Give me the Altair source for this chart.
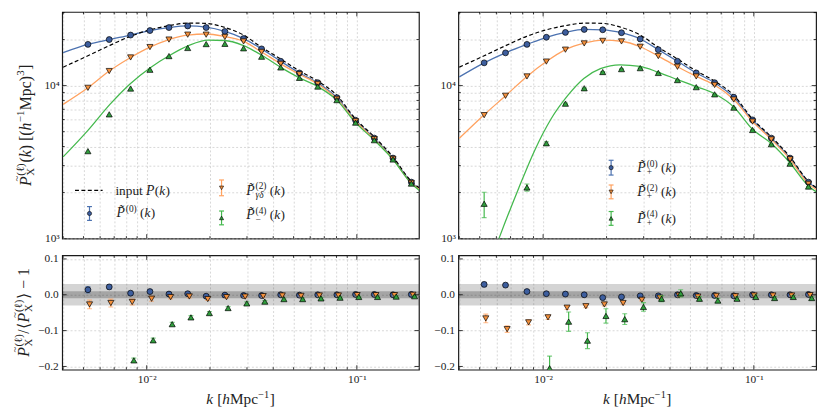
import altair as alt
import pandas as pd

# ---------------- data ----------------
K_BINS = [0.00525, 0.00663, 0.00838, 0.01036, 0.01276, 0.01567, 0.01918, 0.02355, 0.0289,
          0.03521, 0.04341, 0.0533, 0.06516, 0.08034, 0.09861, 0.1211, 0.1486, 0.1817]

# top-left panel (points)
P0_L = [18600, 20000, 21400, 22900, 23960, 24550, 23960, 22600, 20300, 17380, 14420, 12100, 10450, 8350, 5940, 4540, 3360, 2340]
P2_L = [9670, 12450, 15280, 17860, 20000, 21530, 21530, 20800, 19450, 16600, 13880, 11860, 10250, 8190, 5850, 4470, 3320, 2310]
P4_L = [3730, 6490, 9570, 12700, 15600, 17620, 18690, 18760, 17540, 15450, 13150, 11240, 9860, 8040, 5730, 4400, 3290, 2290]
# top-right panel (points)
P0_R = [14090, 16370, 18600, 20700, 22270, 23290, 23170, 22170, 20180, 17180, 14420, 12100, 10450, 8400, 5970, 4540, 3360, 2340]
P2_R = [6410, 8580, 11480, 14360, 17180, 18870, 19600, 19450, 17950, 15600, 13280, 11480, 10100, 8110, 5820, 4450, 3300, 2280]
P4_R = [1690, 880, 2160, 4200, 7620, 9610, 12270, 12820, 13010, 12100, 10870, 9770, 8770, 7180, 5130, 4140, 3090, 2190]
P4_R_ERR = [320, 120, 115, 90, 70, 60, 60, 60, 50, 50, 40, 40, 30, 30, 20, 20, 15, 10]

# model curves
K_LINE = [0.004, 0.00525, 0.00663, 0.00838, 0.01036, 0.01276, 0.01567, 0.01918, 0.02355, 0.0289,
          0.03521, 0.04341, 0.0533, 0.06516, 0.08034, 0.09861, 0.1211, 0.1486, 0.1817, 0.2]
L0_L = [16450, 18600, 20000, 21400, 22900, 23960, 24550, 24100, 22600, 20300, 17380, 14420, 12100, 10450, 8350, 5940, 4540, 3360, 2340, 2100]
L2_L = [7540, 9670, 12450, 15280, 17860, 20000, 21400, 21750, 20900, 19450, 16600, 13880, 11860, 10250, 8190, 5850, 4470, 3320, 2310, 2090]
L0_R = [11400, 14090, 16370, 18600, 20700, 22270, 23290, 23170, 22170, 20180, 17180, 14420, 12100, 10450, 8400, 5970, 4540, 3360, 2340, 2120]
L2_R = [4520, 6450, 8580, 11480, 14360, 17180, 18950, 19850, 19500, 17950, 15600, 13280, 11480, 10100, 8110, 5820, 4450, 3300, 2280, 2080]
K_G_L = [0.004, 0.00525, 0.00668, 0.00835, 0.0104, 0.01276, 0.0159, 0.0196, 0.0235, 0.0287,
         0.0356, 0.04341, 0.0533, 0.06516, 0.08034, 0.09861, 0.1211, 0.1486, 0.1817, 0.2]
L4_L = [3420, 5100, 7540, 10300, 13100, 15670, 18320, 19800, 19720, 18320, 15670, 13150, 11240, 9860, 8040, 5730, 4400, 3290, 2290, 2050]
K_G_R = [0.0055, 0.00617, 0.00764, 0.00914, 0.0109, 0.0131, 0.0156, 0.0187, 0.0232, 0.0288,
         0.035, 0.04341, 0.0533, 0.06516, 0.08034, 0.09861, 0.1211, 0.1486, 0.1817, 0.2]
L4_R = [650, 1000, 2120, 3800, 6050, 8630, 11140, 12900, 13680, 13350, 12270, 10950, 9850, 8850, 7250, 5180, 4180, 3120, 2210, 2000]
K_IN = [0.004, 0.00525, 0.00668, 0.00835, 0.0104, 0.01276, 0.0159, 0.019, 0.0235, 0.0287,
        0.0352, 0.04341, 0.0533, 0.06516, 0.08034, 0.09861, 0.1211, 0.1486, 0.1817, 0.2]
P_IN = [13200, 15670, 18320, 20990, 23180, 24660, 25640, 25530, 24030, 21530, 17800, 14930, 12470, 10710, 8640, 6050, 4630, 3420, 2370, 2130]

# bottom residuals
R0_L = [0.014, 0.022, 0.0045, 0.009, 0.002, 0.003, -0.004, -0.001, -0.002, -0.002, 0.0, -0.001, 0.0, 0.0, 0.001, 0.001, 0.0, 0.001]
R0_L_ERR = [0.009, 0.006, 0.005, 0.004, 0.004, 0.003, 0.003, 0.003, 0.002, 0.002, 0.002, 0.002, 0.002, 0.002, 0.002, 0.002, 0.002, 0.002]
R2_L = [-0.027, -0.023, -0.020, -0.011, -0.0066, -0.0047, -0.012, -0.0066, -0.005, -0.0037, -0.002, -0.003, -0.002, -0.002, -0.001, -0.001, -0.001, 0.0]
R2_L_ERR = [0.012, 0.011, 0.008, 0.007, 0.005, 0.004, 0.004, 0.003, 0.003, 0.003, 0.002, 0.002, 0.002, 0.002, 0.002, 0.002, 0.002, 0.002]
R4_L = [-0.40, -0.26, -0.183, -0.127, -0.082, -0.063, -0.051, -0.037, -0.024, -0.019, -0.012, -0.012, -0.010, -0.008, -0.006, -0.006, -0.005, -0.004]
R4_L_ERR = [0.02, 0.01, 0.006, 0.006, 0.005, 0.005, 0.004, 0.004, 0.004, 0.003, 0.003, 0.003, 0.003, 0.002, 0.002, 0.002, 0.002, 0.002]
R0_R = [0.029, 0.027, 0.009, 0.003, 0.002, 0.0, -0.008, -0.006, -0.003, -0.003, 0.0, -0.002, -0.002, -0.003, 0.0, 0.0, 0.0, 0.001]
R0_R_ERR = [0.006, 0.005, 0.004, 0.003, 0.003, 0.003, 0.003, 0.003, 0.002, 0.002, 0.002, 0.002, 0.002, 0.002, 0.002, 0.002, 0.002, 0.002]
R2_R = [-0.066, -0.096, -0.077, -0.063, -0.036, -0.032, -0.027, -0.023, -0.014, -0.008, -0.002, -0.005, -0.003, -0.004, -0.002, -0.002, -0.002, -0.001]
R2_R_ERR = [0.012, 0.009, 0.007, 0.006, 0.005, 0.004, 0.004, 0.004, 0.003, 0.003, 0.003, 0.002, 0.002, 0.002, 0.002, 0.002, 0.002, 0.002]
R4_R = [-0.90, -0.60, -0.32, -0.205, -0.075, -0.128, -0.059, -0.068, -0.034, -0.011, 0.004, -0.011, -0.016, -0.011, -0.006, -0.009, -0.006, -0.009]
R4_R_ERR = [0.1, 0.08, 0.05, 0.034, 0.027, 0.022, 0.02, 0.015, 0.012, 0.008, 0.01, 0.006, 0.006, 0.005, 0.005, 0.004, 0.004, 0.004]

BAND_OUTER = [-0.03, 0.03]
BAND_INNER = [-0.01, 0.01]

X_MAJOR = [0.01, 0.1]
X_MINOR = [0.004, 0.005, 0.006, 0.007, 0.008, 0.009, 0.02, 0.03, 0.04, 0.05, 0.06, 0.07, 0.08, 0.09]
Y_MAJOR_TOP = [1000, 10000]
Y_MINOR_TOP = [2000, 3000, 4000, 5000, 6000, 7000, 8000, 9000, 20000, 30000]
Y_MAJOR_BOT = [-0.2, -0.1, 0.0, 0.1]

# ---------------- style ----------------
BLUE_LINE, BLUE_FILL = "#4c72b0", "#3d5e9e"
ORANGE_LINE, ORANGE_FILL = "#ffa260", "#f5913d"
GREEN_LINE, GREEN_FILL = "#45b94e", "#2f9e3c"
FONT = "Liberation Serif"
TXT = "#222222"
W1, W2, HT, HB = 362, 363, 230, 116
SHIFT = {"0": 1.0, "2": 1.018, "4": 1.036}

xs = alt.Scale(type="log", domain=[0.00396, 0.1975], nice=False)
ys_top = alt.Scale(type="log", domain=[1000, 30300], nice=False)
ys_bot = alt.Scale(domain=[-0.209, 0.11], nice=False, zero=False)

GRID = dict(grid=True, gridColor="#c6c6c6", gridDash=[2, 2], gridWidth=0.7,
            ticks=False, domain=False, labelOverlap=False, title=None)

DUMMY = pd.DataFrame({"z": [0]})


def rich(pieces, x, y, angle=0):
    """pieces: (text, size, italic, dx, dy) drawn from one anchor, on a common baseline."""
    out = []
    for s, size, italic, dx, dy in pieces:
        kw = dict(text=s, font=FONT, fontSize=size, color=TXT, align="left", baseline="alphabetic",
                  fontStyle="italic" if italic else "normal", dx=dx, dy=dy)
        if angle:
            kw["angle"] = angle
        out.append(alt.Chart(DUMMY).mark_text(**kw).encode(x=alt.value(x), y=alt.value(y)))
    return out


def shifted(pieces, total):
    return [(s, z, i, dx - total / 2, dy) for s, z, i, dx, dy in pieces]


YTITLE_TOP = shifted([
    ("P", 16, True, 0, 0), ("~", 11, False, 4.5, -10.5), ("(ℓ)", 11, False, 10.5, -7),
    ("X", 11, False, 10.5, 3.5), ("(", 16, False, 24, 0), ("k", 16, True, 29.3, 0),
    (")", 16, False, 36.4, 0), ("[(", 16, False, 45.7, 0), ("h", 16, True, 56.3, 0),
    ("−1", 11, False, 64.8, -7), ("Mpc", 16, False, 77, 0), (")", 16, False, 106.3, 0),
    ("3", 11, False, 112, -7), ("]", 16, False, 118, 0)], 123.3)

YTITLE_BOT = shifted([
    ("P", 16, True, 0, 0), ("~", 11, False, 4.5, -10.5), ("(ℓ)", 11, False, 10.5, -7),
    ("X", 11, False, 10.5, 3.5), ("/", 16, False, 23.5, 0), ("⟨", 16, False, 28.5, 0),
    ("P", 16, True, 35, 0), ("~", 11, False, 39.5, -10.5), ("(ℓ)", 11, False, 45.5, -7),
    ("X", 11, False, 45.5, 3.5), ("⟩", 16, False, 58.5, 0), ("−", 16, False, 69, 0),
    ("1", 16, False, 82, 0)], 90)

XTITLE = shifted([
    ("k", 15.5, True, 0, 0), ("[", 15.5, False, 11, 0), ("h", 15.5, True, 16.2, 0),
    ("Mpc", 15.5, False, 24, 0), ("−1", 10.5, False, 52.6, -6.5), ("]", 15.5, False, 64.3, 0)], 69.5)


def x_axis(show):
    if show:
        return alt.Axis(values=X_MAJOR + X_MINOR, labels=True, labelPadding=4, labelFlush=False,
                        labelExpr="datum.value == 0.01 ? '10⁻²' : (datum.value == 0.1 ? '10⁻¹' : '')",
                        **GRID)
    return alt.Axis(values=X_MAJOR + X_MINOR, labels=False, **GRID)


def y_axis_top():
    vals = [v for v in Y_MAJOR_TOP + Y_MINOR_TOP if v < 30000]
    return alt.Axis(values=vals, labelPadding=3,
                    labelExpr="datum.value == 1000 ? '10³' : (datum.value == 10000 ? '10⁴' : '')",
                    **GRID)


def y_axis_bot():
    return alt.Axis(values=Y_MAJOR_BOT, format=".1f", labelPadding=4, **GRID)


def ptilde(x, y, sup, sub=None, sub_italic=False):
    # P with a combining tilde (U+0303), super- and subscript, then (k)
    p = [("P\u0303", 14, True, 0, 0), (sup, 9.5, False, 9.5, -5.5)]
    if sub:
        p.append((sub, 9.5, sub_italic, 9.5, 3.2))
    p += [("(", 13.5, False, 24, 0), ("k", 13.5, True, 28.5, 0), (")", 13.5, False, 34.8, 0)]
    return rich(p, x, y + 4.5)


def symbol(x, y, shape, lcol, fcol, half=7):
    out = [alt.Chart(DUMMY).mark_rule(color=lcol, strokeWidth=1.2).encode(
        x=alt.value(x), y=alt.value(y - half), y2=alt.value(y + half))]
    for yy in (y - half, y + half):
        out.append(alt.Chart(DUMMY).mark_rule(color=lcol, strokeWidth=1.2).encode(
            x=alt.value(x - 2.5), x2=alt.value(x + 2.5), y=alt.value(yy)))
    out.append(alt.Chart(DUMMY).mark_point(shape=shape, filled=True, fill=fcol, stroke="black",
                                           strokeWidth=0.6, size=18, opacity=1).encode(
        x=alt.value(x), y=alt.value(y)))
    return out


def legend(left):
    out = []
    if left:
        out.append(alt.Chart(DUMMY).mark_rule(color="black", strokeWidth=1.2, strokeDash=[4, 2.5]).encode(
            x=alt.value(13), x2=alt.value(41), y=alt.value(181)))
        out += rich([("input", 13.5, False, 0, 0), ("P", 14, True, 31, 0), ("(", 13.5, False, 40, 0),
                     ("k", 13.5, True, 44.5, 0), (")", 13.5, False, 50.8, 0)], 54, 185.5)
        out += symbol(27.7, 204.5, "circle", BLUE_LINE, BLUE_FILL)
        out += ptilde(55, 204, "(0)")
        out += symbol(161.7, 178.5, "triangle-down", ORANGE_LINE, ORANGE_FILL, 8)
        out += ptilde(186.7, 181, "(2)", "γδ", True)
        out += symbol(161.7, 209, "triangle-up", GREEN_LINE, GREEN_FILL)
        out += ptilde(186.7, 206, "(4)", "−")
    else:
        out += symbol(155, 158, "circle", BLUE_LINE, BLUE_FILL, 7.5)
        out += ptilde(181.6, 158, "(0)", "+")
        out += symbol(155, 182.6, "triangle-down", ORANGE_LINE, ORANGE_FILL)
        out += ptilde(181.6, 182.6, "(2)", "+")
        out += symbol(155, 209.5, "triangle-up", GREEN_LINE, GREEN_FILL)
        out += ptilde(181.6, 209.5, "(4)", "+")
    return out


def panel(top, left):
    W = W1 if left else W2
    H = HT if top else HB
    xa = x_axis(not top)
    ya = y_axis_top() if top else y_axis_bot()
    ysc = ys_top if top else ys_bot

    def X(field="k"):
        return alt.X(f"{field}:Q", scale=xs, axis=xa)

    def Y(field):
        return alt.Y(f"{field}:Q", scale=ysc, axis=ya)

    layers = []
    if not top:
        for band, op in ((BAND_OUTER, 0.17), (BAND_INNER, 0.22)):
            bdf = pd.DataFrame({"lo": [band[0]], "hi": [band[1]]})
            layers.append(alt.Chart(bdf).mark_rect(color="black", opacity=op).encode(
                x=alt.value(0), x2=alt.value(W), y=Y("lo"), y2="hi:Q"))

    if top:
        if left:
            curves = [(K_LINE, L0_L, BLUE_LINE), (K_LINE, L2_L, ORANGE_LINE), (K_G_L, L4_L, GREEN_LINE)]
        else:
            curves = [(K_LINE, L0_R, BLUE_LINE), (K_LINE, L2_R, ORANGE_LINE), (K_G_R, L4_R, GREEN_LINE)]
        for kk, vv, col in curves:
            ldf = pd.DataFrame({"k": kk, "v": vv})
            layers.append(alt.Chart(ldf).mark_line(color=col, strokeWidth=1.3, interpolate="monotone",
                                                  clip=True).encode(x=X(), y=Y("v")))
        idf = pd.DataFrame({"k": K_IN, "v": P_IN})
        layers.append(alt.Chart(idf).mark_line(color="black", strokeWidth=1.2, strokeDash=[4, 2.5],
                                              interpolate="monotone", clip=True).encode(x=X(), y=Y("v")))

    if top:
        if left:
            series = [("0", P0_L, None), ("2", P2_L, None), ("4", P4_L, None)]
        else:
            series = [("0", P0_R, None), ("2", P2_R, None), ("4", P4_R, P4_R_ERR)]
    else:
        if left:
            series = [("0", R0_L, R0_L_ERR), ("2", R2_L, R2_L_ERR), ("4", R4_L, R4_L_ERR)]
        else:
            series = [("0", R0_R, R0_R_ERR), ("2", R2_R, R2_R_ERR), ("4", R4_R, R4_R_ERR)]

    style = {"0": ("circle", BLUE_LINE, BLUE_FILL, 36),
             "2": ("triangle-down", ORANGE_LINE, ORANGE_FILL, 38),
             "4": ("triangle-up", GREEN_LINE, GREEN_FILL, 38)}

    for key, vals, errs in series:
        shape, lcol, fcol, size = style[key]
        df = pd.DataFrame({"k": K_BINS, "v": vals, "s": [SHIFT[key] if not top else 1.0] * len(K_BINS)})
        if errs is not None:
            df["lo"] = [v - e for v, e in zip(vals, errs)]
            df["hi"] = [v + e for v, e in zip(vals, errs)]
        base = alt.Chart(df).transform_calculate(kx="datum.k * datum.s")
        if errs is not None:
            layers.append(base.mark_rule(color=lcol, strokeWidth=1.2, clip=True).encode(
                x=X("kx"), y=Y("lo"), y2="hi:Q"))
            for f in ("lo", "hi"):
                layers.append(base.mark_tick(orient="horizontal", size=5, thickness=1.2, color=lcol,
                                             clip=True).encode(x=X("kx"), y=Y(f)))
        layers.append(base.mark_point(shape=shape, filled=True, fill=fcol, stroke="black",
                                      strokeWidth=0.7, size=size, opacity=1, clip=True).encode(
            x=X("kx"), y=Y("v")))

    # inward ticks (matplotlib style), on all four sides
    for vals, L in ((X_MAJOR, 4.5), (X_MINOR, 2.5)):
        tdf = pd.DataFrame({"k": vals})
        for y0, y1 in ((H, H - L), (0, L)):
            layers.append(alt.Chart(tdf).mark_rule(color="black", strokeWidth=0.8, clip=True).encode(
                x=X(), y=alt.value(y0), y2=alt.value(y1)))
    yticks = ((Y_MAJOR_TOP, 4.5), (Y_MINOR_TOP, 2.5)) if top else ((Y_MAJOR_BOT, 4.5),)
    for vals, L in yticks:
        tdf = pd.DataFrame({"v": vals})
        for x0, x1 in ((0, L), (W, W - L)):
            layers.append(alt.Chart(tdf).mark_rule(color="black", strokeWidth=0.8, clip=True).encode(
                y=Y("v"), x=alt.value(x0), x2=alt.value(x1)))

    if top:
        layers += legend(left)
        if left:
            layers += rich(YTITLE_TOP, -32, H / 2, angle=270)
    else:
        layers += rich(XTITLE, W / 2, H + 35)
        if left:
            layers += rich(YTITLE_BOT, -34, H / 2, angle=270)

    return alt.layer(*layers).properties(width=W, height=H)


tl = panel(True, True)
tr = panel(True, False)
bl = panel(False, True)
br = panel(False, False)

chart = alt.concat(tl, tr, bl, br, columns=2, spacing={"row": 17, "column": 40},
                   bounds="flush").properties(
    padding={"left": 0, "top": 0, "right": 5, "bottom": 5}
).configure_view(stroke="#1a1a1a", strokeWidth=1.2).configure_axis(
    labelFont=FONT, labelFontSize=11.5, labelColor=TXT)

chart.save("out.html", embed_options={"renderer": "svg", "actions": False})
